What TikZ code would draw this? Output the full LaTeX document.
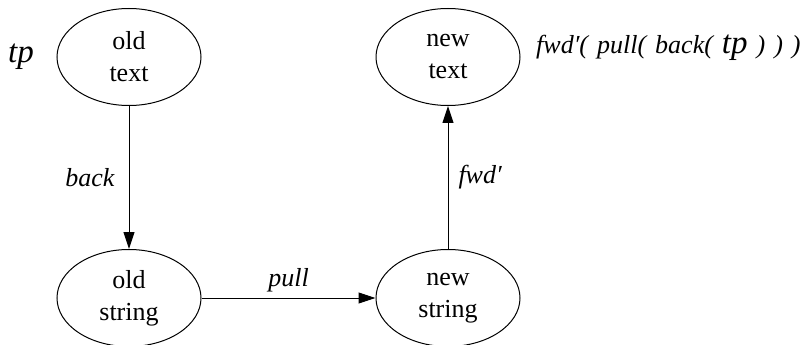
\documentclass[tikz,border=0pt]{standalone}
\usepackage{fontspec}
\setmainfont{Liberation Serif}[ItalicFont={Liberation Serif Italic}]
\usetikzlibrary{arrows.meta,shapes.geometric}
\newcommand{\gsp}{\hspace{9pt}}
\begin{document}
\begin{tikzpicture}[x=1pt,y=-1pt,
  state/.style={draw, ellipse, line width=1pt, minimum width=144pt, minimum height=97pt, inner sep=0pt, align=center, font=\fontsize{26}{32}\selectfont},
  lbl/.style={font=\fontsize{26}{32}\selectfont\itshape, inner sep=0pt},
  big/.style={font=\fontsize{33}{38}\selectfont\itshape, inner sep=0pt},
  arr/.style={-{Triangle[length=17pt,width=11pt]}, line width=1pt}]
\useasboundingbox (0,0) rectangle (807,345);
\node[state] (ot) at (129,57) {old\\text};
\node[state] (nt) at (448,57) {new\\text};
\node[state] (os) at (129,298) {old\\string};
\node[state] (ns) at (448,298) {new\\string};
\node[big, anchor=base west] (tp) at (8,63) {tp};
\node[lbl, anchor=base west] (expr) at (536,54) {fwd′(\gsp pull(\gsp back(\gsp{\fontsize{33}{38}\selectfont tp}\gsp)\gsp)\gsp)};
\draw[arr] (ot) -- node[lbl, left=14pt] {back} (os);
\draw[arr] (os) -- node[lbl, above=5pt] {pull} (ns);
\draw[arr] (ns) -- node[lbl, right=10pt] {fwd′} (nt);
\end{tikzpicture}
\end{document}
